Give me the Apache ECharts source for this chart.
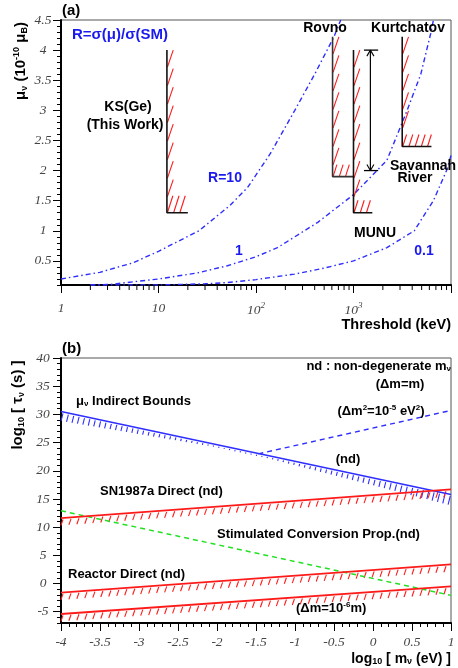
<!DOCTYPE html>
<html>
<head>
<meta charset="utf-8">
<script src="https://cdn.jsdelivr.net/npm/echarts@6.0.0/dist/echarts.min.js"></script>
<style>
html,body{margin:0;padding:0;background:#fff;}
#chart{width:458px;height:668px;}
</style>
</head>
<body>
<div id="chart"></div>
<script>
// ---------- Panel (a): magnetic moment vs threshold ----------
const thresholdTickValues = [1, 10, 100, 1000, 10000];
const thresholdTickLabels = ['1', '10', '10^2', '10^3', ''];
const curveR10 = [[1,0.2],[2.5,0.31],[5.5,0.47],[10,0.66],[26,1.0],[54,1.42],[82,1.72],[140,2.28],[250,3.0],[400,3.6],[630,4.22],[740,4.5]];
const curveR1 = [[2,0.1],[3.2,0.11],[10,0.2],[25,0.3],[51,0.42],[100,0.57],[166,0.72],[430,1.14],[1000,1.6],[2200,2.17],[3550,3.0],[4900,3.6],[6200,4.28],[6600,4.5]];
const curveR01 = [[2,0.1],[10,0.1],[30,0.12],[51,0.14],[100,0.19],[247,0.28],[500,0.38],[1000,0.5],[2200,0.72],[4200,1.0],[6600,1.5],[9000,2.0],[10000,2.25]];
const boundKSGe = [[12.2,4.0],[12.2,1.3],[20,1.3]];
const boundRovno = [[610,4.22],[610,1.9],[1000,1.9]];
const boundMUNU = [[1000,4.0],[1000,1.3],[1560,1.3]];
const boundKurtchatov = [[3160,4.22],[3160,2.4],[6300,2.4]];
const savannahRange = [[1490,2.0],[1490,4.0]];
const savannahBar = [1280, 1790];

// ---------- Panel (b): lifetime vs mass ----------
const massLog = [-4, 1];
const muIndirect = [30.5, 15.8];
const dm2Bound = [[-1.47, 23.0],[1, 30.7]];
const sn1987aDirect = [11.6, 16.7];
const stimulatedConv = [12.9, -2.1];
const reactorDirect = [-1.6, 3.4];
const reactorDm6 = [-5.4, -0.5];

// ---------- styles ----------
const BLUE = '#2e2eff';
const RED = '#ff1a1a';
const SANS = 'Liberation Sans';
const SERIF = 'Liberation Serif';
const tickLabel = {fontFamily: SERIF, fontStyle: 'italic', fontSize: 13.5, color: '#444'};

function seg(x1, y1, x2, y2, color, w) {
  return {type: 'line', shape: {x1, y1, x2, y2}, style: {stroke: color, lineWidth: w}};
}

function renderBoundsA(params, api) {
  const ch = [];
  const list = [[boundKSGe, 17], [boundRovno, 12], [boundMUNU, 12.5], [boundKurtchatov, 12]];
  list.forEach(([b, hh]) => {
    const top = api.coord(b[0]), corner = api.coord(b[1]), end = api.coord(b[2]);
    for (let y = top[1] + 17; y <= corner[1] - 2; y += 18.5) {
      ch.push(seg(corner[0] + 0.5, y, corner[0] + 6.3, y - 17, RED, 1.1));
    }
    for (let x = corner[0] + 0.5; x <= end[0] - 2; x += 6.2) {
      ch.push(seg(x, corner[1], x + hh * 0.32, corner[1] - hh, RED, 1.1));
    }
  });
  const lo = api.coord(savannahRange[0]), hi = api.coord(savannahRange[1]);
  const bl = api.coord([savannahBar[0], savannahRange[1][1]]), br = api.coord([savannahBar[1], savannahRange[1][1]]);
  const bl2 = api.coord([savannahBar[0], savannahRange[0][1]]), br2 = api.coord([savannahBar[1], savannahRange[0][1]]);
  ch.push(seg(lo[0], lo[1], hi[0], hi[1], '#000', 1.2));
  ch.push(seg(bl[0], bl[1], br[0], br[1], '#000', 1.3));
  ch.push(seg(bl2[0], bl2[1], br2[0], br2[1], '#000', 1.3));
  ch.push(seg(hi[0] - 3.5, hi[1] + 6, hi[0], hi[1], '#000', 1.1));
  ch.push(seg(hi[0] + 3.5, hi[1] + 6, hi[0], hi[1], '#000', 1.1));
  ch.push(seg(lo[0] - 3.5, lo[1] - 6, lo[0], lo[1], '#000', 1.1));
  ch.push(seg(lo[0] + 3.5, lo[1] - 6, lo[0], lo[1], '#000', 1.1));
  return {type: 'group', children: ch};
}

function renderLogMinor(params, api) {
  const ch = [];
  thresholdTickValues.slice(0, -1).forEach(d => {
    for (let m = 2; m <= 9; m++) {
      const p = api.coord([d * m, 0.1]);
      ch.push(seg(p[0], p[1], p[0], p[1] + 5, '#000', 1));
    }
  });
  return {type: 'group', children: ch};
}

function hatchLine(api, ch, p0, p1, spacing, lenFn, dirX, color, w, startOff) {
  const a = api.coord(p0), b = api.coord(p1);
  const L = Math.hypot(b[0] - a[0], b[1] - a[1]);
  for (let s = startOff; s <= L; s += spacing) {
    const t = s / L;
    const x = a[0] + t * (b[0] - a[0]), y = a[1] + t * (b[1] - a[1]);
    const xv = p0[0] + t * (p1[0] - p0[0]);
    const len = lenFn(xv);
    ch.push(seg(x, y + 1.5, x + dirX * len, y + 1.5 + len, color, w));
  }
}

function renderHatchB(params, api) {
  const ch = [];
  const pts = arr => [[massLog[0], arr[0]], [massLog[1], arr[1]]];
  hatchLine(api, ch, ...pts(muIndirect), 5.5, xv => Math.max(1.2, Math.min(9, Math.abs(xv + 1.7) * 3.3)), -0.25, BLUE, 1.1, 2);
  [sn1987aDirect, reactorDirect, reactorDm6].forEach(arr => {
    hatchLine(api, ch, ...pts(arr), 8, () => 6, -0.35, RED, 1.1, 2);
  });
  return {type: 'group', children: ch};
}

function lineSeries(data, xi, yi, color, type, width, z) {
  return {type: 'line', xAxisIndex: xi, yAxisIndex: yi, data, symbol: 'none', showSymbol: false,
    silent: true, clip: true, z: z || 3, lineStyle: {color, type, width}};
}

function txt(x, y, text, o) {
  o = o || {};
  return Object.assign({type: 'text', x, y, silent: true, z: 100,
    style: Object.assign({text, fill: '#000', fontFamily: SANS, fontWeight: 'bold', fontSize: 14,
      align: 'left', verticalAlign: 'middle', textAlign: 'left', textVerticalAlign: 'middle'}, o.style || {})}, o.el || {});
}
function richSet(size, color) {
  const base = {fontFamily: SANS, fontWeight: 'bold', fill: color || '#000'};
  return {
    m: Object.assign({fontSize: size}, base),
    s: Object.assign({fontSize: Math.round(size * 0.62), padding: [Math.round(size * 0.45), 0, 0, 0]}, base),
    p: Object.assign({fontSize: Math.round(size * 0.62), padding: [0, 0, Math.round(size * 0.55), 0]}, base)
  };
}

const axisLineBlack = {show: true, onZero: false, lineStyle: {color: '#000', width: 2}};

const option = {
  animation: false,
  backgroundColor: '#fff',
  grid: [
    {left: 61, top: 20, width: 390, height: 265, show: true, borderColor: '#555', borderWidth: 1},
    {left: 61, top: 358, width: 390, height: 265, show: true, borderColor: '#555', borderWidth: 1}
  ],
  xAxis: [
    {type: 'log', gridIndex: 0, logBase: 10, min: 1, max: 10000,
      axisLine: axisLineBlack, axisTick: {length: 8, lineStyle: {color: '#000'}}, splitLine: {show: false},
      axisLabel: Object.assign({margin: 16, formatter: v => {
        const i = thresholdTickValues.findIndex(t => Math.abs(t - v) < 1e-6 * t);
        const s = i >= 0 ? thresholdTickLabels[i] : '';
        if (!s) return '';
        if (s.indexOf('^') > 0) { const q = s.split('^'); return '{b|' + q[0] + '}{p|' + q[1] + '}'; }
        return '{b|' + s + '}';
      }, rich: {
        b: {fontFamily: SERIF, fontStyle: 'italic', fontSize: 13.5, color: '#444'},
        p: {fontFamily: SERIF, fontStyle: 'italic', fontSize: 9, color: '#444', padding: [0, 0, 9, 0]}
      }}, tickLabel)},
    {type: 'value', gridIndex: 1, min: -4, max: 1, interval: 0.5,
      axisLine: axisLineBlack, axisTick: {length: 8, lineStyle: {color: '#000'}},
      minorTick: {show: true, splitNumber: 5, length: 4, lineStyle: {color: '#000'}},
      splitLine: {show: false}, minorSplitLine: {show: false},
      axisLabel: Object.assign({margin: 12}, tickLabel)}
  ],
  yAxis: [
    {type: 'value', gridIndex: 0, position: 'left', min: 0.1, max: 4.5, splitNumber: 9,
      axisLine: axisLineBlack, axisTick: {length: 8, lineStyle: {color: '#000'}}, splitLine: {show: false},
      axisLabel: Object.assign({margin: 18, align: 'center', showMinLabel: false}, tickLabel)},
    {type: 'value', gridIndex: 0, position: 'left', min: 0.1, max: 4.5, interval: 0.1,
      axisLine: {show: false, onZero: false}, axisTick: {length: 4, lineStyle: {color: '#000'}},
      axisLabel: {show: false}, splitLine: {show: false}},
    {type: 'value', gridIndex: 1, position: 'left', min: -7, max: 40, splitNumber: 9,
      axisLine: axisLineBlack, axisTick: {length: 8, lineStyle: {color: '#000'}}, splitLine: {show: false},
      axisLabel: Object.assign({margin: 18, align: 'center', showMinLabel: false}, tickLabel)},
    {type: 'value', gridIndex: 1, position: 'left', min: -7, max: 40, interval: 1,
      axisLine: {show: false, onZero: false}, axisTick: {length: 4, lineStyle: {color: '#000'}},
      axisLabel: {show: false}, splitLine: {show: false}}
  ],
  series: [
    lineSeries(curveR10, 0, 0, BLUE, [5, 3, 1.5, 3], 1.4),
    lineSeries(curveR1, 0, 0, BLUE, [5, 3, 1.5, 3], 1.4),
    lineSeries(curveR01, 0, 0, BLUE, [5, 3, 1.5, 3], 1.4),
    lineSeries(boundKSGe, 0, 0, '#111', 'solid', 1.6, 5),
    lineSeries(boundRovno, 0, 0, '#333', 'solid', 1.6, 5),
    lineSeries(boundMUNU, 0, 0, '#111', 'solid', 1.6, 5),
    lineSeries(boundKurtchatov, 0, 0, '#111', 'solid', 1.6, 5),
    {type: 'custom', xAxisIndex: 0, yAxisIndex: 0, data: [[12.2, 1.3]], renderItem: renderBoundsA, silent: true, z: 4, clip: false},
    {type: 'custom', xAxisIndex: 0, yAxisIndex: 0, data: [[1, 0.1]], renderItem: renderLogMinor, silent: true, z: 6, clip: false},

    lineSeries(massLog.map((x, i) => [x, muIndirect[i]]), 1, 2, BLUE, 'solid', 1.5),
    lineSeries(dm2Bound, 1, 2, BLUE, [5, 4], 1.4),
    lineSeries(massLog.map((x, i) => [x, stimulatedConv[i]]), 1, 2, '#22e022', [5, 4], 1.5),
    lineSeries(massLog.map((x, i) => [x, sn1987aDirect[i]]), 1, 2, RED, 'solid', 1.8, 4),
    lineSeries(massLog.map((x, i) => [x, reactorDirect[i]]), 1, 2, RED, 'solid', 1.8, 4),
    lineSeries(massLog.map((x, i) => [x, reactorDm6[i]]), 1, 2, RED, 'solid', 1.8, 4),
    {type: 'custom', xAxisIndex: 1, yAxisIndex: 2, data: [[-4, 0]], renderItem: renderHatchB, silent: true, z: 3, clip: false}
  ],
  graphic: [
    // panel (a)
    txt(62, 11, '(a)', {style: {fontSize: 15}}),
    txt(72, 35, 'R=σ(μ)/σ(SM)', {style: {fill: '#1a1aee', fontSize: 15}}),
    txt(128, 107, 'KS(Ge)', {style: {align: 'center', textAlign: 'center'}}),
    txt(125, 125, '(This Work)', {style: {align: 'center', textAlign: 'center'}}),
    txt(225, 178, 'R=10', {style: {fill: '#1a1aee', align: 'center', textAlign: 'center'}}),
    txt(239, 251, '1', {style: {fill: '#1a1aee', align: 'center', textAlign: 'center'}}),
    txt(424, 251, '0.1', {style: {fill: '#1a1aee', align: 'center', textAlign: 'center'}}),
    txt(325, 28, 'Rovno', {style: {align: 'center', textAlign: 'center'}}),
    txt(408, 28, 'Kurtchatov', {style: {align: 'center', textAlign: 'center'}}),
    txt(375, 233, 'MUNU', {style: {align: 'center', textAlign: 'center'}}),
    txt(390, 166, 'Savannah', {}),
    txt(415, 178, 'River', {style: {align: 'center', textAlign: 'center'}}),
    txt(451, 325, 'Threshold (keV)', {style: {align: 'right', textAlign: 'right', fontSize: 14.5}}),
    txt(21, 61, '{m|μ}{s|ν}{m| (10}{p|-10}{m| μ}{s|B}{m|)}', {
      style: {align: 'center', textAlign: 'center', rich: richSet(15)}, el: {rotation: Math.PI / 2}}),
    // panel (b)
    txt(62, 349, '(b)', {style: {fontSize: 15}}),
    txt(18, 405, '{m|log}{s|10}{m| [ τ}{s|ν}{m| (s) ]}', {
      style: {align: 'center', textAlign: 'center', rich: richSet(15)}, el: {rotation: Math.PI / 2}}),
    txt(451, 659, '{m|log}{s|10}{m| [ m}{s|ν}{m| (eV) ]}', {
      style: {align: 'right', textAlign: 'right', rich: richSet(14)}}),
    txt(76, 401, '{m|μ}{s|ν}{m| Indirect Bounds}', {style: {rich: richSet(13)}}),
    txt(451, 366, '{m|nd : non-degenerate m}{s|ν}', {style: {align: 'right', textAlign: 'right', rich: richSet(13)}}),
    txt(400, 384, '(Δm=m)', {style: {align: 'center', textAlign: 'center', fontSize: 13}}),
    txt(381, 411, '{m|(Δm}{p|2}{m|=10}{p|-5}{m| eV}{p|2}{m|)}', {style: {align: 'center', textAlign: 'center', rich: richSet(13)}}),
    txt(348, 459, '(nd)', {style: {align: 'center', textAlign: 'center', fontSize: 13}}),
    txt(100, 491, 'SN1987a Direct (nd)', {style: {fontSize: 13}}),
    txt(217, 534, 'Stimulated Conversion Prop.(nd)', {style: {fontSize: 13}}),
    txt(68, 574, 'Reactor Direct (nd)', {style: {fontSize: 13}}),
    txt(296, 608, '{m|(Δm=10}{p|-6}{m|m)}', {style: {rich: richSet(13)}})
  ]
};

const chart = echarts.init(document.getElementById('chart'), null, {renderer: 'canvas'});
chart.setOption(option);
</script>
</body>
</html>
